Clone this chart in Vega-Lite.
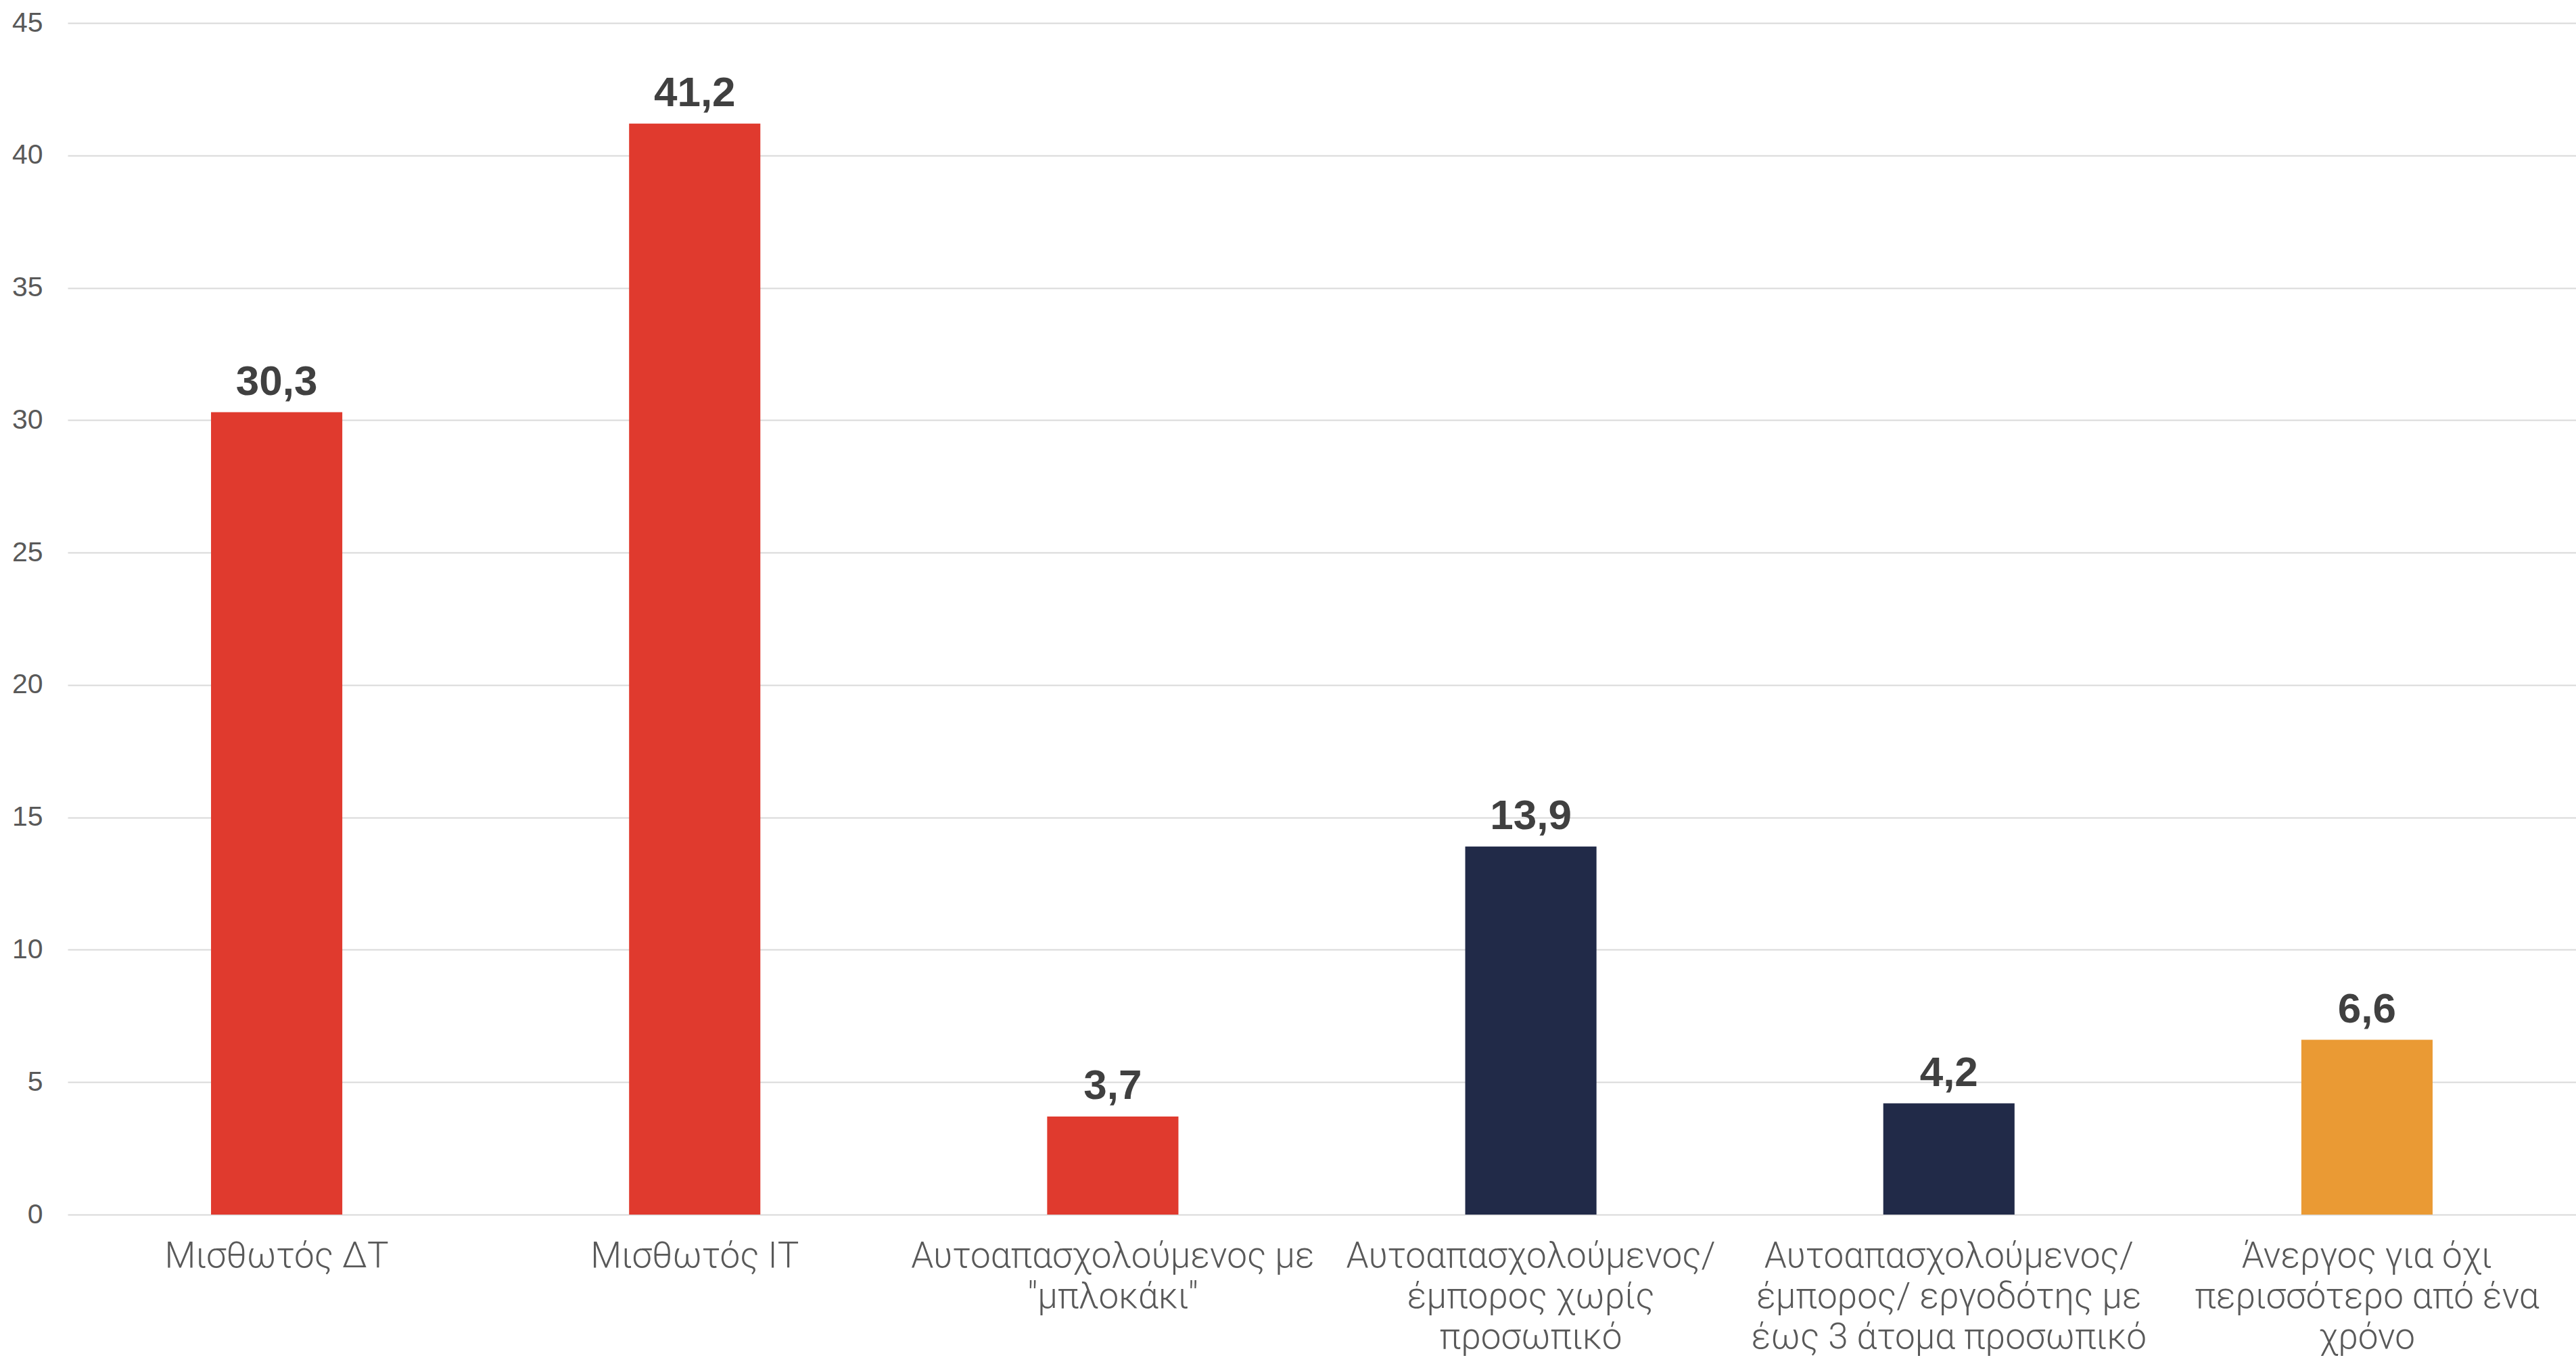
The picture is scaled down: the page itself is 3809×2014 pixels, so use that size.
{
  "$schema": "https://vega.github.io/schema/vega-lite/v6.json",
  "autosize": {"type": "none"},
  "width": 3709,
  "height": 1762,
  "padding": {"left": 100, "top": 34, "right": 0, "bottom": 218},
  "background": "#ffffff",
  "config": {
    "view": {"stroke": null},
    "locale": {"number": {"decimal": ",", "thousands": ".", "grouping": [3], "currency": ["", " €"]}}
  },
  "data": {
    "values": [
      {"cat": "Μισθωτός ΔΤ", "group": "μισθωτή εργασία", "value": 30.3},
      {"cat": "Μισθωτός ΙΤ", "group": "μισθωτή εργασία", "value": 41.2},
      {"cat": "Αυτοαπασχολούμενος με|\"μπλοκάκι\"", "group": "μισθωτή εργασία", "value": 3.7},
      {"cat": "Αυτοαπασχολούμενος/|έμπορος χωρίς|προσωπικό", "group": "αυτοαπασχόληση", "value": 13.9},
      {"cat": "Αυτοαπασχολούμενος/|έμπορος/ εργοδότης με|έως 3 άτομα προσωπικό", "group": "αυτοαπασχόληση", "value": 4.2},
      {"cat": "Άνεργος για όχι|περισσότερο από ένα|χρόνο", "group": "ανεργία", "value": 6.6}
    ]
  },
  "encoding": {
    "x": {
      "field": "cat",
      "type": "nominal",
      "sort": null,
      "scale": {"paddingInner": 0.686, "paddingOuter": 0.343},
      "axis": {
        "title": null,
        "labelAngle": 0,
        "labelExpr": "split(datum.label, '|')",
        "labelFont": "Roboto",
        "labelFontWeight": 300,
        "labelFontSize": 53,
        "labelLineHeight": 60,
        "labelColor": "#595959",
        "labelPadding": 35,
        "labelBaseline": "top",
        "labelLimit": 0,
        "domain": false,
        "ticks": false
      }
    },
    "y": {
      "field": "value",
      "type": "quantitative",
      "scale": {"domain": [0, 45], "nice": false},
      "axis": {
        "title": null,
        "values": [0, 5, 10, 15, 20, 25, 30, 35, 40, 45],
        "labelFont": "Liberation Sans",
        "labelFontSize": 41,
        "labelColor": "#595959",
        "labelPadding": 37,
        "domain": false,
        "ticks": false,
        "grid": true,
        "gridColor": "#D9D9D9",
        "gridWidth": 2
      }
    }
  },
  "layer": [
    {
      "mark": {"type": "bar"},
      "encoding": {
        "color": {
          "field": "group",
          "type": "nominal",
          "scale": {"domain": ["μισθωτή εργασία", "αυτοαπασχόληση", "ανεργία"], "range": ["#E03A2E", "#212A48", "#EA9A34"]},
          "legend": null
        }
      }
    },
    {
      "mark": {"type": "text", "font": "Liberation Sans", "fontWeight": "bold", "fontSize": 62, "color": "#404040", "baseline": "alphabetic", "align": "center", "dy": -26},
      "encoding": {
        "text": {"field": "value", "type": "quantitative", "format": ".1f"}
      }
    }
  ]
}
